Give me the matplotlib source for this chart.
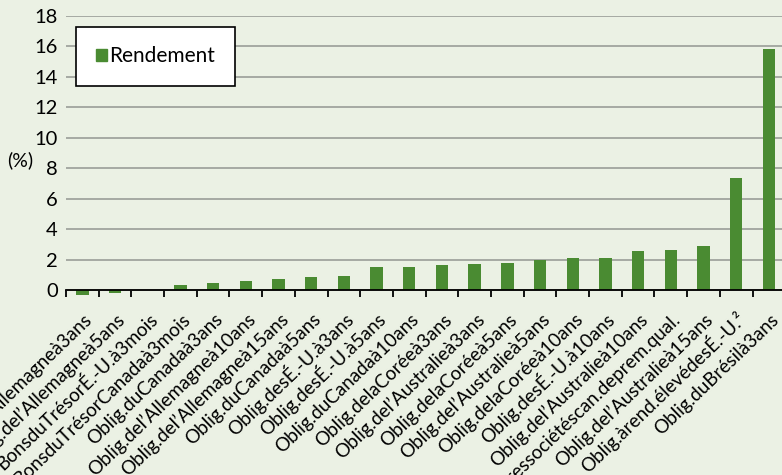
import numpy as np
import matplotlib.pyplot as plt
from matplotlib.patches import Patch
from matplotlib.transforms import ScaledTranslation

# rendement par titre (%)
titres = ['Oblig.del’Allemagneà3ans', 'Oblig.del’Allemagneà5ans', 'BonsduTrésorÉ.-U.à3mois',
          'BonsduTrésorCanadaà3mois', 'Oblig.duCanadaà3ans', 'Oblig.del’Allemagneà10ans',
          'Oblig.del’Allemagneà15ans', 'Oblig.duCanadaà5ans', 'Oblig.desÉ.-U.à3ans',
          'Oblig.desÉ.-U.à5ans', 'Oblig.duCanadaà10ans', 'Oblig.delaCoréeà3ans',
          'Oblig.del’Australieà3ans', 'Oblig.delaCoréeà5ans', 'Oblig.del’Australieà5ans',
          'Oblig.delaCoréeà10ans', 'Oblig.desÉ.-U.à10ans', 'Oblig.del’Australieà10ans',
          'Titressociétéscan.deprem.qual.', 'Oblig.del’Australieà15ans',
          'Oblig.àrend.élevédesÉ.-U.²', 'Oblig.duBrésilà3ans']
rendement = [-0.3, -0.15, 0.05, 0.38, 0.5, 0.6, 0.73, 0.85, 0.95, 1.52, 1.52,
             1.63, 1.75, 1.76, 1.98, 2.1, 2.1, 2.56, 2.67, 2.89, 7.35, 15.85]
yticks = [0, 2, 4, 6, 8, 10, 12, 14, 16, 18]

bg = '#EBF1E4'
vert = '#4A8B32'
plt.rcParams['font.family'] = ['Lato', 'DejaVu Sans']

fig = plt.figure(figsize=(7.82, 4.75), dpi=100, facecolor=bg)
ax = fig.add_axes([66/782, 1-296.4/475, 1-66/782, (296.4-16)/475])
ax.set_facecolor(bg)

x = np.arange(len(titres))
ax.bar(x, rendement, width=0.38, color=vert, zorder=3)

ax.set_xlim(-0.5, 21.4)
ax.set_ylim(-0.4, 18)
ax.set_yticks(yticks)
ax.yaxis.grid(True, color='#9A9E98', linewidth=1.2, zorder=0)
ax.tick_params(axis='y', length=0, labelsize=14.5, pad=6)

for s in ['left', 'right', 'top']:
    ax.spines[s].set_visible(False)
ax.spines['bottom'].set_position(('data', 0))
ax.spines['bottom'].set_linewidth(1.3)
ax.spines['bottom'].set_zorder(4)

# étiquettes inclinées, décalées un peu à droite du centre de la barre
ax.set_xticks(x)
ax.set_xticklabels(titres, rotation=44, ha='right', va='baseline',
                   rotation_mode='anchor', fontsize=13.6)
ax.set_xticks(np.arange(-0.5, 21.5, 1), minor=True)
ax.tick_params(axis='x', which='major', length=0, pad=22)
ax.tick_params(axis='x', which='minor', length=5, width=1.3, direction='out')
decal = ScaledTranslation(11/100, 0, fig.dpi_scale_trans)
for lab in ax.get_xticklabels():
    lab.set_transform(lab.get_transform() + decal)

fig.text(7/782, 1-160/475, '(%)', fontsize=14, va='center', ha='left')

leg = ax.legend([Patch(color=vert)], ['Rendement'], loc='upper left',
                bbox_to_anchor=(76/782, 1-26.7/475), bbox_transform=fig.transFigure,
                borderaxespad=0, fontsize=15, fancybox=False, framealpha=1,
                edgecolor='black', handlelength=0.55, handleheight=0.55,
                handletextpad=0.1, borderpad=0.95)
leg.get_frame().set_linewidth(1.2)

plt.savefig('out.png', dpi=100, facecolor=bg)
